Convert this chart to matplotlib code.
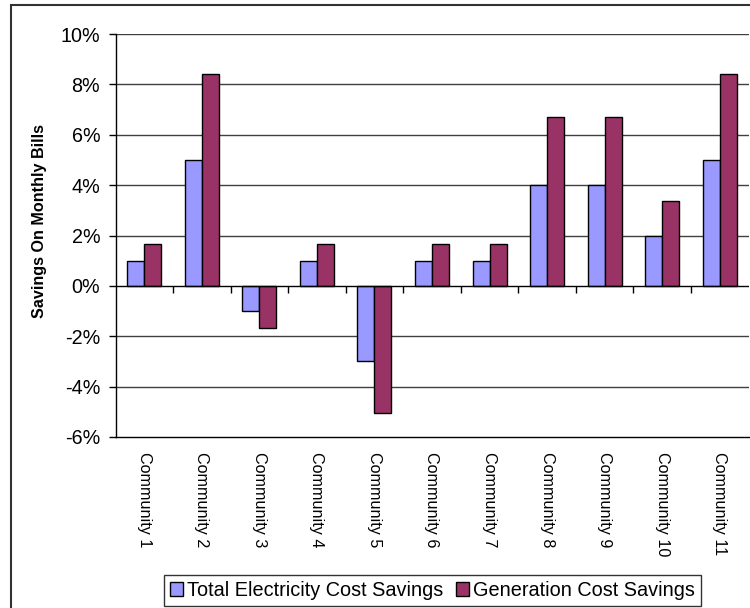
import matplotlib
matplotlib.use("Agg")
import matplotlib.pyplot as plt
import matplotlib.patches as mpatches
import numpy as np
from matplotlib.ticker import FuncFormatter

plt.rcParams['font.family'] = ['Liberation Sans', 'DejaVu Sans']

# Savings per community, in percent
communities = ['Community %d' % i for i in range(1, 12)]
total_savings = [1, 5, -1, 1, -3, 1, 1, 4, 4, 2, 5]
generation_savings = [1.68, 8.4, -1.68, 1.68, -5.04, 1.68, 1.68, 6.72, 6.72, 3.36, 8.4]

blue = '#9999FF'
plum = '#993366'

fig = plt.figure(figsize=(7.5, 6.08), dpi=100)
ax = fig.add_axes([115.5 / 750, (608 - 437) / 608, 633 / 750, 403 / 608])

x = np.arange(len(communities))
w = 0.295
ax.bar(x - w / 2, total_savings, width=w, color=blue, edgecolor='black',
       linewidth=1, label='Total Electricity Cost Savings', zorder=3)
ax.bar(x + w / 2, generation_savings, width=w, color=plum, edgecolor='black',
       linewidth=1, label='Generation Cost Savings', zorder=3)

ax.set_xlim(-0.5, len(communities) - 0.5)
ax.set_ylim(-6, 10)
ax.set_yticks(np.arange(-6, 11, 2))
ax.yaxis.set_major_formatter(FuncFormatter(lambda v, p: '%d%%' % v))
ax.tick_params(axis='y', direction='out', length=5, width=1, pad=6, labelsize=14.2)

# gridlines and zero axis
for v in np.arange(-4, 11, 2):
    if v != 0:
        ax.axhline(v, color='#404040', linewidth=1, zorder=1)
ax.axhline(0, color='black', linewidth=1, zorder=4)
bounds = np.arange(0.5, len(communities) - 0.5, 1)
ax.plot(bounds, np.zeros_like(bounds), linestyle='none', marker=3,
        markersize=5, markeredgewidth=1, color='black', zorder=4, clip_on=False)

ax.set_xticks(x)
ax.set_xticklabels(communities, rotation=-90, fontsize=11.6)
ax.tick_params(axis='x', length=0, pad=11)

for s in ['top', 'right']:
    ax.spines[s].set_visible(False)
ax.spines['left'].set_linewidth(1)
ax.spines['bottom'].set_linewidth(1)

ax.set_ylabel('Savings On Monthly Bills', fontsize=11.6, fontweight='bold')
ax.yaxis.set_label_coords(-68 / 633, 0.535)

leg = fig.legend(loc='center', bbox_to_anchor=(432.5 / 750, 17.5 / 608), ncol=2,
                 fontsize=14.3, frameon=True, fancybox=False, edgecolor='black',
                 handlelength=0.64, handleheight=0.64, handletextpad=0.2,
                 columnspacing=0.65, borderpad=0.3, borderaxespad=0)
leg.get_frame().set_linewidth(1)

# outer chart frame
fig.patches.append(mpatches.Rectangle((11 / 750, -0.05), 1.0, (608 - 5) / 608 + 0.05,
                                      transform=fig.transFigure, fill=False,
                                      edgecolor='#333333', linewidth=1.5))

fig.savefig('out.png', dpi=100)
